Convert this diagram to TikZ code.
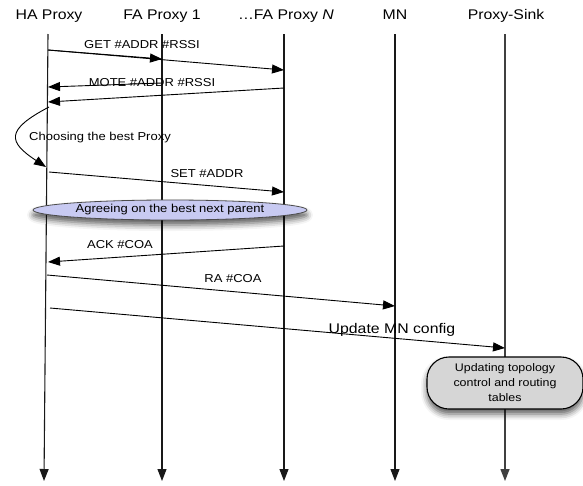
\documentclass[tikz,border=0pt]{standalone}
\usepackage{fontspec}
\setmainfont{Liberation Sans}[FakeStretch=1.13]
\usetikzlibrary{arrows.meta,shapes.geometric,shadows.blur}

\definecolor{agreefill}{RGB}{200,202,242}
\definecolor{boxfill}{RGB}{214,214,214}

\tikzset{
  hdr/.style={anchor=base,font=\fontsize{14}{17}\selectfont,inner sep=0pt},
  lbl/.style={anchor=base,font=\fontsize{11.5}{14}\selectfont,inner sep=0pt},
  biglbl/.style={anchor=base,font=\fontsize{14}{17}\selectfont,inner sep=0pt},
  tip/.style={-{Triangle[length=12pt,width=9pt]}},
  life/.style={tip,line width=1.1pt,black!90},
  sinklife/.style={tip,line width=1.4pt,black!75},
  msg/.style={tip,line width=0.9pt},
  softshadow/.style={blur shadow={shadow xshift=0pt,shadow yshift=-5pt,
      shadow blur radius=6pt,shadow opacity=65}},
  agreebox/.style={ellipse,draw=black!70,line width=0.8pt,fill=agreefill,
      minimum width=274pt,minimum height=20pt,inner sep=0pt,softshadow,
      font=\fontsize{11.5}{14}\selectfont},
  taskbox/.style={draw,line width=1.1pt,fill=boxfill,rounded corners=22pt,
      minimum width=156pt,minimum height=52pt,inner sep=0pt,align=center,
      softshadow,font=\fontsize{11}{15}\selectfont}
}

\begin{document}
\begin{tikzpicture}[x=1pt,y=-1pt]
\useasboundingbox (0,0) rectangle (583,485);

% participants
\node[hdr] (hHA)   at (49,19)  {HA Proxy};
\node[hdr] (hFA1)  at (162,19) {FA Proxy 1};
\node[hdr] (hFAN)  at (286,19) {…FA Proxy \textit{N}};
\node[hdr] (hMN)   at (395,19) {MN};
\node[hdr] (hSink) at (506,19) {Proxy-Sink};

% lifeline ends
\coordinate (haT) at (48,34);   \coordinate (haB) at (44,481);
\coordinate (faT) at (162,34);  \coordinate (faB) at (162,481);
\coordinate (fnT) at (284,34);  \coordinate (fnB) at (284,481);
\coordinate (mnT) at (395,34);  \coordinate (mnB) at (395,481);
\coordinate (skT) at (505,34);  \coordinate (skB) at (505,481);

\draw[life] (haT) -- (haB);
\draw[life] (faT) -- (faB);
\draw[life] (fnT) -- (fnB);
\draw[life] (mnT) -- (mnB);
\draw[sinklife] (skT) -- (skB);

% message end points on the lifelines
\coordinate (getS)  at (48,50);
\coordinate (getA)  at (162,59);
\coordinate (getB)  at (284,70);
\coordinate (moA)   at (162,83);
\coordinate (moAe)  at (48,87);
\coordinate (moB)   at (284,88);
\coordinate (moBe)  at (48,102);
\coordinate (chS)   at (49,107);
\coordinate (chE)   at (46,167);
\coordinate (setS)  at (49,172);
\coordinate (setE)  at (284,192);
\coordinate (ackS)  at (284,246);
\coordinate (ackE)  at (48,262);
\coordinate (raS)   at (47,275);
\coordinate (raE)   at (395,306);
\coordinate (upS)   at (50,308);
\coordinate (upE)   at (505,348);

% messages
\draw[msg] (getS) -- (getA);
\draw[msg] (getS) -- (getB);
\node[lbl] (lGet) at (142,48) {GET \#ADDR \#RSSI};

\draw[msg] (moA) -- (moAe);
\draw[msg] (moB) -- (moBe);
\node[lbl] (lMote) at (152,86) {MOTE \#ADDR \#RSSI};

\draw[msg] (chS) .. controls (5,130) and (8,142) .. (chE);
\node[lbl] (lChoose) at (100,140) {Choosing the best Proxy};

\draw[msg] (setS) -- (setE);
\node[lbl] (lSet) at (207,177) {SET \#ADDR};

\node[agreebox] (agree) at (170,210) {Agreeing on the best next parent};

\draw[msg] (ackS) -- (ackE);
\node[lbl] (lAck) at (120,248) {ACK \#COA};

\draw[msg] (raS) -- (raE);
\node[lbl] (lRa) at (233,282) {RA \#COA};

\draw[msg] (upS) -- (upE);
\node[biglbl] (lUp) at (392,333) {Update MN config};

\node[taskbox] (task) at (505,383) {Updating topology\\control and routing\\tables};
\end{tikzpicture}
\end{document}
